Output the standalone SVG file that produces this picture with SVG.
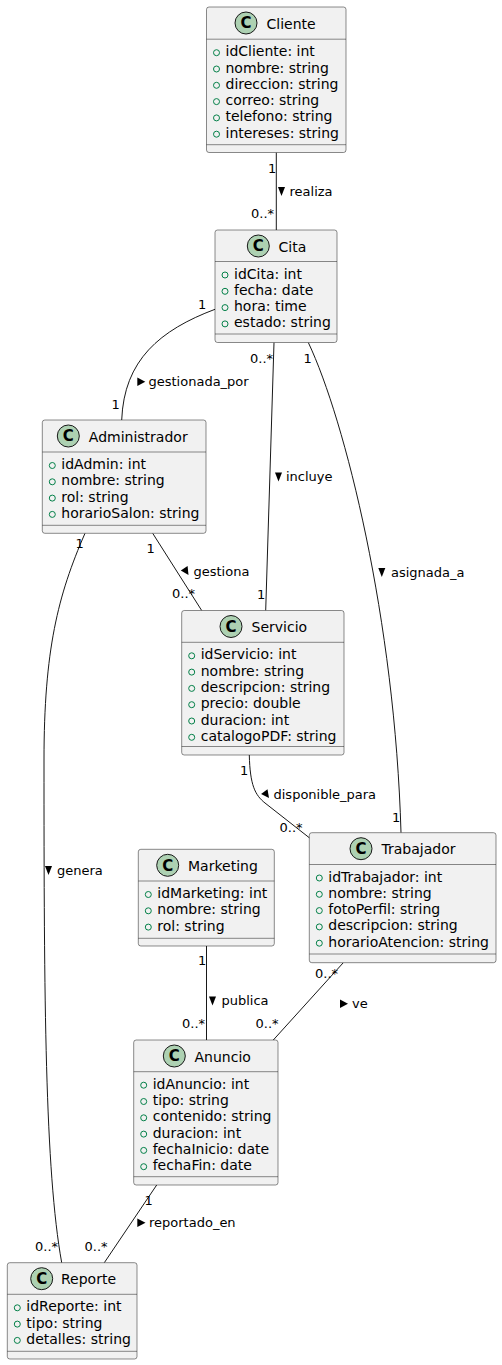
<svg xmlns="http://www.w3.org/2000/svg" width="502" height="1365" viewBox="0 0 502 1365">
<style>
.box{fill:#F1F1F1;stroke:#181818;stroke-width:0.5}
.sep{stroke:#181818;stroke-width:0.5}
.ci{fill:#ADD1B2;stroke:#181818;stroke-width:1}
.cl{font-family:"DejaVu Sans",sans-serif;font-size:15px;font-weight:bold;fill:#000;text-anchor:middle}
.nm{font-family:"DejaVu Sans",sans-serif;font-size:14px;fill:#000}
.at{font-family:"DejaVu Sans",sans-serif;font-size:14px;fill:#000}
.ic{fill:none;stroke:#038048;stroke-width:1}
.ln{fill:none;stroke:#181818;stroke-width:1}
.lb{font-family:"DejaVu Sans",sans-serif;font-size:13px;fill:#000}
.ar{fill:#000}
</style>
<rect width="502" height="1365" fill="#FFFFFF"/>
<g id="connectors">
<path class="ln" d="M276.3,152.5 L276.3,230"/>
<path class="ln" d="M215,309.3 C160,330 124,360 121.7,420"/>
<path class="ln" d="M274,342.5 L265.7,610.5"/>
<path class="ln" d="M308.3,342.5 C345,420 395,620 401,832.7"/>
<path class="ln" d="M152.7,533.3 L201.7,610.5"/>
<path class="ln" d="M85,533.3 C58,595 44,650 44,760 C44,1000 45,1170 61.7,1262.7"/>
<path class="ln" d="M249.3,755 C250,785 255,795 265,803 L310,838.3"/>
<path class="ln" d="M206.5,946 L206.5,1040"/>
<path class="ln" d="M343.3,962.7 L273.3,1040"/>
<path class="ln" d="M156.7,1185 L104.3,1262.7"/>
<text class="lb" x="268" y="173">1</text>
<text class="lb" x="251" y="218">0..*</text>
<polygon class="ar" points="278,187 285,187 281.5,196"/>
<text class="lb" x="289.5" y="196">realiza</text>
<text class="lb" x="198" y="308.5">1</text>
<text class="lb" x="111.5" y="409">1</text>
<polygon class="ar" points="137.3,377.5 137.3,386 145.3,381.75"/>
<text class="lb" x="148.5" y="386">gestionada_por</text>
<text class="lb" x="250" y="363">0..*</text>
<text class="lb" x="257" y="598.5">1</text>
<polygon class="ar" points="275,472.5 282,472.5 278.5,481.5"/>
<text class="lb" x="286" y="481">incluye</text>
<text class="lb" x="303.5" y="363">1</text>
<text class="lb" x="392" y="822">1</text>
<polygon class="ar" points="378.3,568 385.3,568 381.8,577"/>
<text class="lb" x="391" y="577">asignada_a</text>
<text class="lb" x="146.5" y="553">1</text>
<text class="lb" x="172" y="598">0..*</text>
<polygon class="ar" points="188.5,575 187.6,566.1 180.8,570.5"/>
<text class="lb" x="193.5" y="576">gestiona</text>
<text class="lb" x="75.5" y="548">1</text>
<text class="lb" x="35" y="1251">0..*</text>
<polygon class="ar" points="45,866 52,866 48.5,875"/>
<text class="lb" x="57" y="875">genera</text>
<text class="lb" x="240" y="775">1</text>
<text class="lb" x="279.5" y="832">0..*</text>
<polygon class="ar" points="269,798 267.5,789.2 261.1,794"/>
<text class="lb" x="273.5" y="798.5">disponible_para</text>
<text class="lb" x="198" y="965">1</text>
<text class="lb" x="182" y="1028">0..*</text>
<polygon class="ar" points="209,996.5 216,996.5 212.5,1005.5"/>
<text class="lb" x="221.5" y="1005">publica</text>
<text class="lb" x="315" y="978">0..*</text>
<text class="lb" x="255.5" y="1028">0..*</text>
<polygon class="ar" points="340,999.5 340,1008 348,1003.75"/>
<text class="lb" x="352" y="1008">ve</text>
<text class="lb" x="144.5" y="1205">1</text>
<text class="lb" x="84.5" y="1251">0..*</text>
<polygon class="ar" points="137.3,1218.5 137.3,1227 145.5,1222.75"/>
<text class="lb" x="149" y="1227">reportado_en</text>
</g>
<g id="Cliente">
<rect class="box" x="206.5" y="7" width="139.5" height="145.5" rx="2.5"/>
<circle class="ci" cx="246" cy="23" r="11"/>
<text class="cl" x="246" y="28.3">C</text>
<text class="nm" x="266.5" y="28.5">Cliente</text>
<line class="sep" x1="206.5" y1="39.2" x2="346" y2="39.2"/>
<circle class="ic" cx="216.5" cy="52.7" r="3"/><text class="at" x="225.5" y="56.2">idCliente: int</text>
<circle class="ic" cx="216.5" cy="69" r="3"/><text class="at" x="225.5" y="72.5">nombre: string</text>
<circle class="ic" cx="216.5" cy="85.3" r="3"/><text class="at" x="225.5" y="88.8">direccion: string</text>
<circle class="ic" cx="216.5" cy="101.6" r="3"/><text class="at" x="225.5" y="105.1">correo: string</text>
<circle class="ic" cx="216.5" cy="117.9" r="3"/><text class="at" x="225.5" y="121.4">telefono: string</text>
<circle class="ic" cx="216.5" cy="134.2" r="3"/><text class="at" x="225.5" y="137.7">intereses: string</text>
<line class="sep" x1="206.5" y1="144.7" x2="346" y2="144.7"/>
</g>
<g id="Cita">
<rect class="box" x="215" y="230" width="122" height="112.5" rx="2.5"/>
<circle class="ci" cx="258.3" cy="246" r="11"/>
<text class="cl" x="258.3" y="251.3">C</text>
<text class="nm" x="278.5" y="251.5">Cita</text>
<line class="sep" x1="215" y1="261.5" x2="337" y2="261.5"/>
<circle class="ic" cx="225" cy="275" r="3"/><text class="at" x="234" y="278.5">idCita: int</text>
<circle class="ic" cx="225" cy="291.3" r="3"/><text class="at" x="234" y="294.8">fecha: date</text>
<circle class="ic" cx="225" cy="307.6" r="3"/><text class="at" x="234" y="311.1">hora: time</text>
<circle class="ic" cx="225" cy="323.9" r="3"/><text class="at" x="234" y="327.4">estado: string</text>
<line class="sep" x1="215" y1="334" x2="337" y2="334"/>
</g>
<g id="Administrador">
<rect class="box" x="42.3" y="420" width="163.7" height="113.3" rx="2.5"/>
<circle class="ci" cx="68.3" cy="436" r="11"/>
<text class="cl" x="68.3" y="441.3">C</text>
<text class="nm" x="88.8" y="441.5">Administrador</text>
<line class="sep" x1="42.3" y1="452" x2="206" y2="452"/>
<circle class="ic" cx="52.3" cy="465.5" r="3"/><text class="at" x="61.3" y="469">idAdmin: int</text>
<circle class="ic" cx="52.3" cy="481.8" r="3"/><text class="at" x="61.3" y="485.3">nombre: string</text>
<circle class="ic" cx="52.3" cy="498.1" r="3"/><text class="at" x="61.3" y="501.6">rol: string</text>
<circle class="ic" cx="52.3" cy="514.4" r="3"/><text class="at" x="61.3" y="517.9">horarioSalon: string</text>
<line class="sep" x1="42.3" y1="525.3" x2="206" y2="525.3"/>
</g>
<g id="Servicio">
<rect class="box" x="181.7" y="610.5" width="162.3" height="144.5" rx="2.5"/>
<circle class="ci" cx="231" cy="626.5" r="11"/>
<text class="cl" x="231" y="631.8">C</text>
<text class="nm" x="251.5" y="632">Servicio</text>
<line class="sep" x1="181.7" y1="642.3" x2="344" y2="642.3"/>
<circle class="ic" cx="191.7" cy="655.8" r="3"/><text class="at" x="200.7" y="659.3">idServicio: int</text>
<circle class="ic" cx="191.7" cy="672.1" r="3"/><text class="at" x="200.7" y="675.6">nombre: string</text>
<circle class="ic" cx="191.7" cy="688.4" r="3"/><text class="at" x="200.7" y="691.9">descripcion: string</text>
<circle class="ic" cx="191.7" cy="704.7" r="3"/><text class="at" x="200.7" y="708.2">precio: double</text>
<circle class="ic" cx="191.7" cy="721" r="3"/><text class="at" x="200.7" y="724.5">duracion: int</text>
<circle class="ic" cx="191.7" cy="737.3" r="3"/><text class="at" x="200.7" y="740.8">catalogoPDF: string</text>
<line class="sep" x1="181.7" y1="746.5" x2="344" y2="746.5"/>
</g>
<g id="Trabajador">
<rect class="box" x="309.3" y="832.7" width="186.7" height="130" rx="2.5"/>
<circle class="ci" cx="361" cy="848.7" r="11"/>
<text class="cl" x="361" y="854">C</text>
<text class="nm" x="381.5" y="854.2">Trabajador</text>
<line class="sep" x1="309.3" y1="864.5" x2="496" y2="864.5"/>
<circle class="ic" cx="319.3" cy="878" r="3"/><text class="at" x="328.3" y="881.5">idTrabajador: int</text>
<circle class="ic" cx="319.3" cy="894.3" r="3"/><text class="at" x="328.3" y="897.8">nombre: string</text>
<circle class="ic" cx="319.3" cy="910.6" r="3"/><text class="at" x="328.3" y="914.1">fotoPerfil: string</text>
<circle class="ic" cx="319.3" cy="926.9" r="3"/><text class="at" x="328.3" y="930.4">descripcion: string</text>
<circle class="ic" cx="319.3" cy="943.2" r="3"/><text class="at" x="328.3" y="946.7">horarioAtencion: string</text>
<line class="sep" x1="309.3" y1="954" x2="496" y2="954"/>
</g>
<g id="Marketing">
<rect class="box" x="138.3" y="849.3" width="136" height="96.7" rx="2.5"/>
<circle class="ci" cx="167.7" cy="865.3" r="11"/>
<text class="cl" x="167.7" y="870.6">C</text>
<text class="nm" x="188" y="870.8">Marketing</text>
<line class="sep" x1="138.3" y1="881" x2="274.3" y2="881"/>
<circle class="ic" cx="148.3" cy="894.5" r="3"/><text class="at" x="157.3" y="898">idMarketing: int</text>
<circle class="ic" cx="148.3" cy="910.8" r="3"/><text class="at" x="157.3" y="914.3">nombre: string</text>
<circle class="ic" cx="148.3" cy="927.1" r="3"/><text class="at" x="157.3" y="930.6">rol: string</text>
<line class="sep" x1="138.3" y1="938.3" x2="274.3" y2="938.3"/>
</g>
<g id="Anuncio">
<rect class="box" x="133.7" y="1040" width="144.3" height="145" rx="2.5"/>
<circle class="ci" cx="174.3" cy="1056" r="11"/>
<text class="cl" x="174.3" y="1061.3">C</text>
<text class="nm" x="194.5" y="1061.5">Anuncio</text>
<line class="sep" x1="133.7" y1="1071.7" x2="278" y2="1071.7"/>
<circle class="ic" cx="143.7" cy="1085.2" r="3"/><text class="at" x="152.7" y="1088.7">idAnuncio: int</text>
<circle class="ic" cx="143.7" cy="1101.5" r="3"/><text class="at" x="152.7" y="1105">tipo: string</text>
<circle class="ic" cx="143.7" cy="1117.8" r="3"/><text class="at" x="152.7" y="1121.3">contenido: string</text>
<circle class="ic" cx="143.7" cy="1134.1" r="3"/><text class="at" x="152.7" y="1137.6">duracion: int</text>
<circle class="ic" cx="143.7" cy="1150.4" r="3"/><text class="at" x="152.7" y="1153.9">fechaInicio: date</text>
<circle class="ic" cx="143.7" cy="1166.7" r="3"/><text class="at" x="152.7" y="1170.2">fechaFin: date</text>
<line class="sep" x1="133.7" y1="1176.7" x2="278" y2="1176.7"/>
</g>
<g id="Reporte">
<rect class="box" x="7.3" y="1262.7" width="129.7" height="96.3" rx="2.5"/>
<circle class="ci" cx="41.7" cy="1278.7" r="11"/>
<text class="cl" x="41.7" y="1284">C</text>
<text class="nm" x="61" y="1284.2">Reporte</text>
<line class="sep" x1="7.3" y1="1294.3" x2="137" y2="1294.3"/>
<circle class="ic" cx="17.3" cy="1307.8" r="3"/><text class="at" x="26.3" y="1311.3">idReporte: int</text>
<circle class="ic" cx="17.3" cy="1324.1" r="3"/><text class="at" x="26.3" y="1327.6">tipo: string</text>
<circle class="ic" cx="17.3" cy="1340.4" r="3"/><text class="at" x="26.3" y="1343.9">detalles: string</text>
<line class="sep" x1="7.3" y1="1351.3" x2="137" y2="1351.3"/>
</g>
</svg>
